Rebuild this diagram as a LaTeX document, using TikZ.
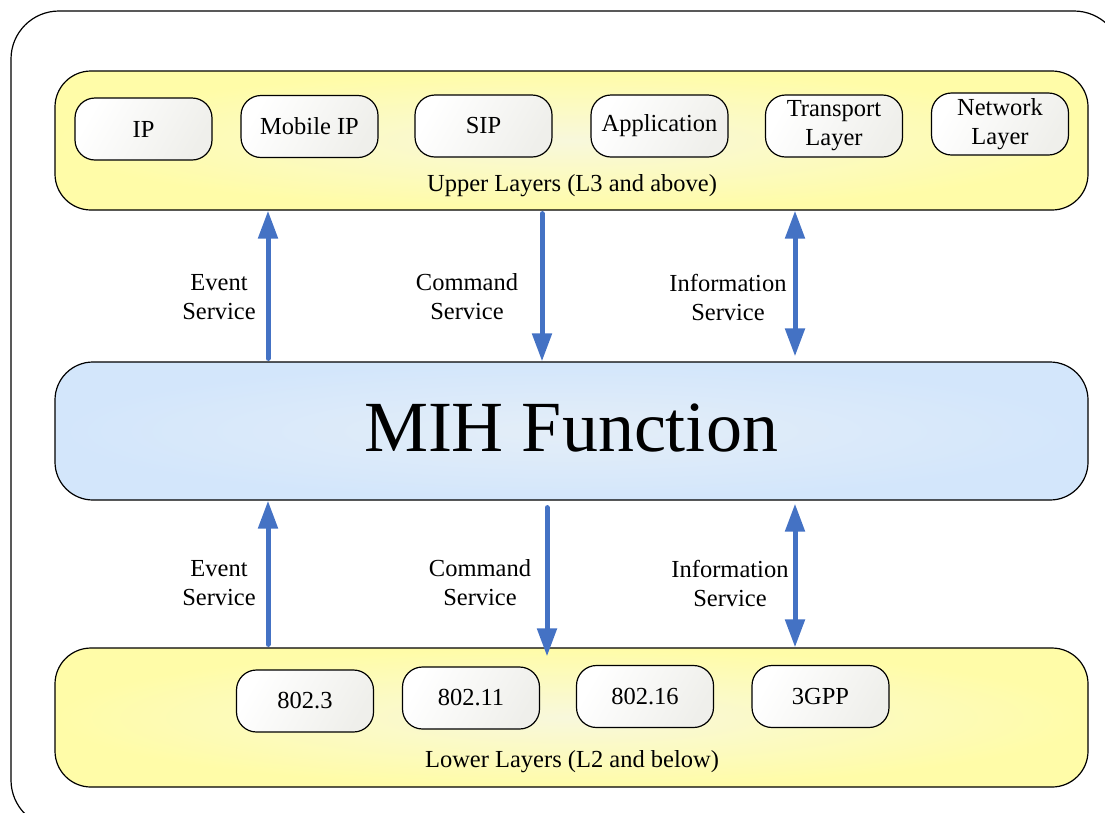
\documentclass[tikz,border=0pt]{standalone}
\usepackage{fontspec}
\setmainfont{Liberation Serif}
\usetikzlibrary{arrows.meta}
\definecolor{layeryellow}{HTML}{FFFCA8}
\definecolor{layercenter}{HTML}{F8F8DC}
\definecolor{mihblue}{HTML}{D3E6FB}
\definecolor{mihcenter}{HTML}{E4EEF8}
\definecolor{arrowblue}{HTML}{4472C4}
\definecolor{boxgray}{HTML}{EFEFEB}
\tikzset{
  layerbox/.style={draw, line width=1.2pt, rounded corners=36pt,
    minimum width=1033pt, minimum height=139pt,
    inner color=layercenter, outer color=layeryellow},
  protobox/.style={draw, line width=1.2pt, rounded corners=20pt,
    minimum width=137pt, minimum height=62pt, align=center,
    left color=white, right color=boxgray, shading angle=60,
    font=\fontsize{24.5}{29}\selectfont},
  layerlabel/.style={font=\fontsize{24.5}{29}\selectfont},
  svclabel/.style={align=center, font=\fontsize{24.5}{29}\selectfont},
  svc/.style={draw=arrowblue, line width=5pt, line cap=round},
  tip/.tip={Triangle[width=19pt, length=28pt]},
}
\begin{document}
\begin{tikzpicture}[x=1pt, y=-1pt]
\useasboundingbox (0,0) rectangle (1105,812);
\clip (0,0) rectangle (1105,812);

% outer frame, running past the page edges
\draw[line width=1.2pt, rounded corners=48pt] (11,11) rectangle (1122,828);

% the three layers
\node[layerbox] (upper) at (571.5,140.5) {};
\node[draw, line width=1.2pt, rounded corners=38pt,
      minimum width=1033pt, minimum height=138pt,
      inner color=mihcenter, outer color=mihblue] (mih) at (571.5,431) {};
\node[layerbox] (lower) at (571.5,717.5) {};

\node[font=\fontsize{72}{80}\selectfont] (mihlbl) at (571,428) {MIH Function};
\node[layerlabel] (upperlbl) at (572,186) {Upper Layers (L3 and above)};
\node[layerlabel] (lowerlbl) at (572,762) {Lower Layers (L2 and below)};

% upper-layer protocols
\node[protobox] (ip)   at (143.5,129)  {IP};
\node[protobox] (mip)  at (309.5,126.5){Mobile IP};
\node[protobox] (sip)  at (483.5,126)  {SIP};
\node[protobox] (app)  at (659.5,126)  {Application};
\node[protobox] (tl)   at (834,126)    {Transport\\Layer};
\node[protobox] (nl)   at (1000,124)   {Network\\Layer};

% lower-layer technologies
\node[protobox] (e3)   at (305,701)    {802.3};
\node[protobox] (e11)  at (471,698)    {802.11};
\node[protobox] (e16)  at (645,696.5)  {802.16};
\node[protobox] (g3)   at (820.5,696.5){3GPP};

% service columns
\coordinate (evU) at (268,0);
\coordinate (cmU) at (542,0);
\coordinate (inU) at (795,0);
\coordinate (evL) at (268,0);
\coordinate (cmL) at (547,0);
\coordinate (inL) at (795,0);

% services between upper layers and MIH
\draw[svc, -tip, shorten <=3pt] (mih.north -| evU) -- (upper.south -| evU);
\draw[svc, -tip, shorten <=3pt] (upper.south -| cmU) -- (mih.north -| cmU);
\draw[svc, tip-tip, shorten >=5pt] (upper.south -| inU) -- (mih.north -| inU);

% services between MIH and lower layers
\draw[svc, -tip, shorten <=3pt] (lower.north -| evL) -- (mih.south -| evL);
\draw[svc, -tip, shorten <=7pt, shorten >=-9pt] (mih.south -| cmL) -- (lower.north -| cmL);
\draw[svc, tip-tip, shorten <=3pt] (mih.south -| inL) -- (lower.north -| inL);

\node[svclabel] (ev1) at (219,297) {Event\\Service};
\node[svclabel] (cm1) at (467,297) {Command\\Service};
\node[svclabel] (in1) at (728,297) {Information\\Service};
\node[svclabel] (ev2) at (219,583) {Event\\Service};
\node[svclabel] (cm2) at (480,583) {Command\\Service};
\node[svclabel] (in2) at (730,583) {Information\\Service};
\end{tikzpicture}
\end{document}
